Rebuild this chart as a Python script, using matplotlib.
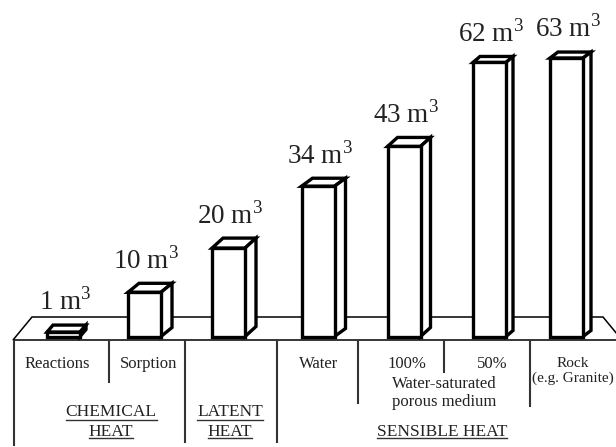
import matplotlib
matplotlib.use('Agg')
import matplotlib.pyplot as plt
from matplotlib.patches import Polygon

plt.rcParams['font.family'] = ['Liberation Serif', 'DejaVu Serif']
plt.rcParams['mathtext.fontset'] = 'custom'
plt.rcParams['mathtext.rm'] = 'Liberation Serif'

# volumes needed for each storage type (m^3)
volumes = [1, 10, 20, 34, 43, 62, 63]
value_labels = ['1 m$^{3}$', '10 m$^{3}$', '20 m$^{3}$', '34 m$^{3}$',
                '43 m$^{3}$', '62 m$^{3}$', '63 m$^{3}$']
sub_labels = ['Reactions', 'Sorption', 'Water', '100%', '50%', 'Rock\n(e.g. Granite)']
group_labels = ['CHEMICAL\nHEAT', 'LATENT\nHEAT', 'SENSIBLE HEAT']

# layout (pixels)
bar_x = [63.5, 144.5, 228.5, 318, 404, 489.5, 566.5]
bar_w = 33
depth_dx = [6, 11, 11, 11, 10, 7, 8]
depth_dy = [7, 9, 10, 8, 9, 6, 6]
px_per_unit = 4.42
base_px = 336.5
edge_lw = 2.4
txt_col = '#222222'

fig = plt.figure(figsize=(6.16, 4.47), dpi=100)
ax = fig.add_axes([0, 0, 1, 1])
ax.axis('off')
ax.set_xlim(0, 616)
ax.set_ylim(-(447 - base_px) / px_per_unit, base_px / px_per_unit)


def py(y):
    # pixel row -> data units
    return (base_px - y) / px_per_unit


# platform
plat = Polygon([(13, py(340)), (32, py(317)), (603, py(317)), (622, py(340))],
               closed=True, facecolor='white', edgecolor='black', lw=1.1, zorder=1)
ax.add_patch(plat)

# bars with a 3d look
bars = ax.bar(bar_x, volumes, width=bar_w, bottom=0, facecolor='white',
              edgecolor='black', lw=edge_lw, zorder=3, joinstyle='miter')
for i, b in enumerate(bars):
    x0 = b.get_x()
    x1 = x0 + b.get_width()
    h = b.get_height()
    dx = depth_dx[i]
    dy = depth_dy[i] / px_per_unit
    top = Polygon([(x0, h), (x1, h), (x1 + dx, h + dy), (x0 + dx, h + dy)], closed=True,
                  facecolor='white', edgecolor='black', lw=edge_lw, zorder=2, joinstyle='miter')
    side = Polygon([(x1, 0), (x1, h), (x1 + dx, h + dy), (x1 + dx, dy)], closed=True,
                   facecolor='white', edgecolor='black', lw=edge_lw, zorder=2, joinstyle='miter')
    ax.add_patch(top)
    ax.add_patch(side)
    ax.text(x0 + b.get_width() / 2 + 2, h + dy + 15 / px_per_unit, value_labels[i],
            ha='center', va='baseline', fontsize=19.5, color=txt_col)

# dividers below the platform
dividers = [(14, 445), (109, 382), (185, 442), (277, 442), (358, 403), (444, 372), (530, 406)]
for x, yend in dividers:
    ax.plot([x, x], [py(341), py(yend)], color='#333333', lw=1.5, zorder=1)

sub_pos = [(57, 364), (149, 364), (319, 364), (407, 364), (492, 364), (573, 371)]
sub_size = [12, 12, 12, 12, 12, 11]
for (x, y), lab, fs in zip(sub_pos, sub_labels, sub_size):
    ax.text(x, py(y), lab, ha='center', va='center', fontsize=fs, color=txt_col,
            linespacing=1.15)
ax.text(444, py(393), 'Water-saturated\nporous medium', ha='center', va='center',
        fontsize=12, color=txt_col, linespacing=1.1)

group_pos = [(111, 422), (230, 422), (442, 432)]
group_texts = []
for (x, y), lab in zip(group_pos, group_labels):
    t = ax.text(x, py(y), lab, ha='center', va='center', fontsize=12.5, color=txt_col,
                linespacing=1.25)
    group_texts.append(t)

# underline the group labels
fig.canvas.draw()
r = fig.canvas.get_renderer()
inv = ax.transData.inverted()
for t in group_texts:
    lines = t.get_text().split('\n')
    bb = t.get_window_extent(r)
    n = len(lines)
    lh = bb.height / n
    for k, line in enumerate(lines):
        tmp = ax.text(0, 0, line, fontsize=12.5)
        w = tmp.get_window_extent(r).width
        tmp.remove()
        cx = (bb.x0 + bb.x1) / 2
        yb = bb.y1 - lh * (k + 1) + 2
        (xa, ya) = inv.transform((cx - w / 2, yb))
        (xb, _) = inv.transform((cx + w / 2, yb))
        ax.plot([xa, xb], [ya, ya], color='#333333', lw=1.0)

fig.savefig('out.png', dpi=100, facecolor='white')
